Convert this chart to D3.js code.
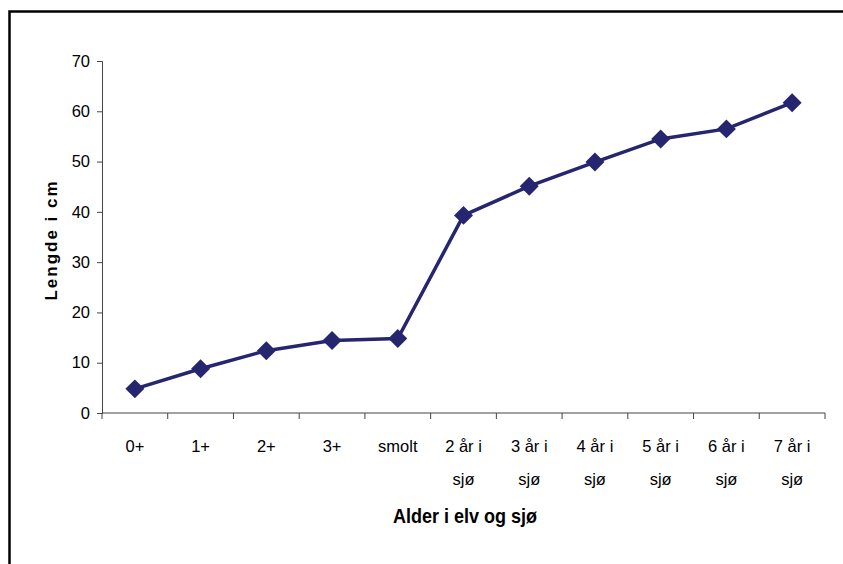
<!DOCTYPE html>
<html>
<head>
<meta charset="utf-8">
<script src="https://cdn.jsdelivr.net/npm/d3@7"></script>
<style>
  body { margin: 0; background: #fff; }
  text { font-family: "Liberation Sans", Arial, sans-serif; fill: #000; }
  .axis-text { font-size: 16.5px; }
  .axis-label { font-weight: bold; }
</style>
</head>
<body>
<div id="lineChart" style="width:843px;height:564px"></div>
<script>
// data
const categories = ["0+", "1+", "2+", "3+", "smolt", "2 år i sjø", "3 år i sjø", "4 år i sjø", "5 år i sjø", "6 år i sjø", "7 år i sjø"];
const lengths = [4.8, 8.8, 12.4, 14.4, 14.8, 39.3, 45.1, 49.9, 54.5, 56.5, 61.7];
const yTicks = [0, 10, 20, 30, 40, 50, 60, 70];

const xLabel = "Alder i elv og sjø";
const yLabel = "Lengde i cm";

// size of the box
const initial_width = 843, initial_height = 564;
const margin = {top: 61, right: 18, bottom: 151, left: 102},
    width = initial_width - margin.left - margin.right,
    height = initial_height - margin.top - margin.bottom;

const svgRoot = d3.select("#lineChart")
  .append("svg")
    .attr("width", initial_width)
    .attr("height", initial_height);

// frame (only top and left are visible in the picture)
svgRoot.append("path")
  .attr("d", "M9.5,600 V11.5 H860")
  .attr("fill", "none")
  .attr("stroke", "#000")
  .attr("stroke-width", 2.5);

const svg = svgRoot.append("g")
  .attr("transform", "translate(" + margin.left + "," + margin.top + ")");

// scales
const xScale = d3.scaleBand()
  .domain(categories)
  .range([0, width]);

const yScale = d3.scaleLinear()
  .domain([0, 70])
  .range([height, 0]);

// Y axis
const yAxis = svg.append("g")
  .call(d3.axisLeft(yScale).tickValues(yTicks).tickSize(5).tickPadding(7));
yAxis.attr("font-family", null).attr("font-size", null);
yAxis.select(".domain").attr("stroke", "#444");
yAxis.selectAll(".tick line").attr("stroke", "#444");
yAxis.selectAll("text").attr("class", "axis-text");

// X axis with ticks between categories
const xAxis = svg.append("g")
  .attr("transform", "translate(0," + height + ")");
xAxis.append("line")
  .attr("x1", 0).attr("x2", width)
  .attr("stroke", "#444");
xAxis.selectAll(".sep")
  .data(d3.range(categories.length + 1))
  .enter()
  .append("line")
    .attr("class", "sep")
    .attr("x1", i => i * xScale.step())
    .attr("x2", i => i * xScale.step())
    .attr("y1", 0).attr("y2", 6)
    .attr("stroke", "#444");

// category labels, wrapped like the original
const catText = xAxis.selectAll(".cat")
  .data(categories)
  .enter()
  .append("text")
    .attr("class", "axis-text")
    .attr("text-anchor", "middle")
    .attr("transform", d => "translate(" + (xScale(d) + xScale.bandwidth() / 2) + ",39)");
catText.each(function(d) {
  const parts = d.indexOf(" i ") > 0 ? [d.slice(0, d.lastIndexOf(" ")), d.slice(d.lastIndexOf(" ") + 1)] : [d];
  d3.select(this).selectAll("tspan")
    .data(parts)
    .enter()
    .append("tspan")
      .attr("x", 0)
      .attr("dy", (p, i) => i === 0 ? 0 : 33)
      .text(p => p);
});

// axis labels
svg.append("text")
  .attr("class", "axis-label")
  .attr("text-anchor", "middle")
  .style("font-size", "20px")
  .attr("transform", "translate(" + (465 - margin.left) + "," + (522.5 - margin.top) + ") scale(0.9,1)")
  .text(xLabel);

svg.append("text")
  .attr("class", "axis-label")
  .attr("text-anchor", "middle")
  .style("font-size", "17px")
  .style("letter-spacing", "2px")
  .attr("transform", "translate(" + (57 - margin.left) + "," + (240 - margin.top) + ") rotate(-90)")
  .text(yLabel);

// line
const lineColor = "#262670";
const line = d3.line()
  .x((d, i) => xScale(categories[i]) + xScale.bandwidth() / 2)
  .y(d => yScale(d));

svg.append("path")
  .datum(lengths)
  .attr("fill", "none")
  .attr("stroke", lineColor)
  .attr("stroke-width", 3.5)
  .attr("d", line);

// diamond markers
svg.append("g")
  .selectAll("path")
  .data(lengths)
  .enter()
  .append("path")
    .attr("d", d3.symbol(d3.symbolSquare).size(180))
    .attr("transform", (d, i) => "translate(" + (xScale(categories[i]) + xScale.bandwidth() / 2) + "," + yScale(d) + ") rotate(45)")
    .attr("fill", lineColor);
</script>
</body>
</html>
